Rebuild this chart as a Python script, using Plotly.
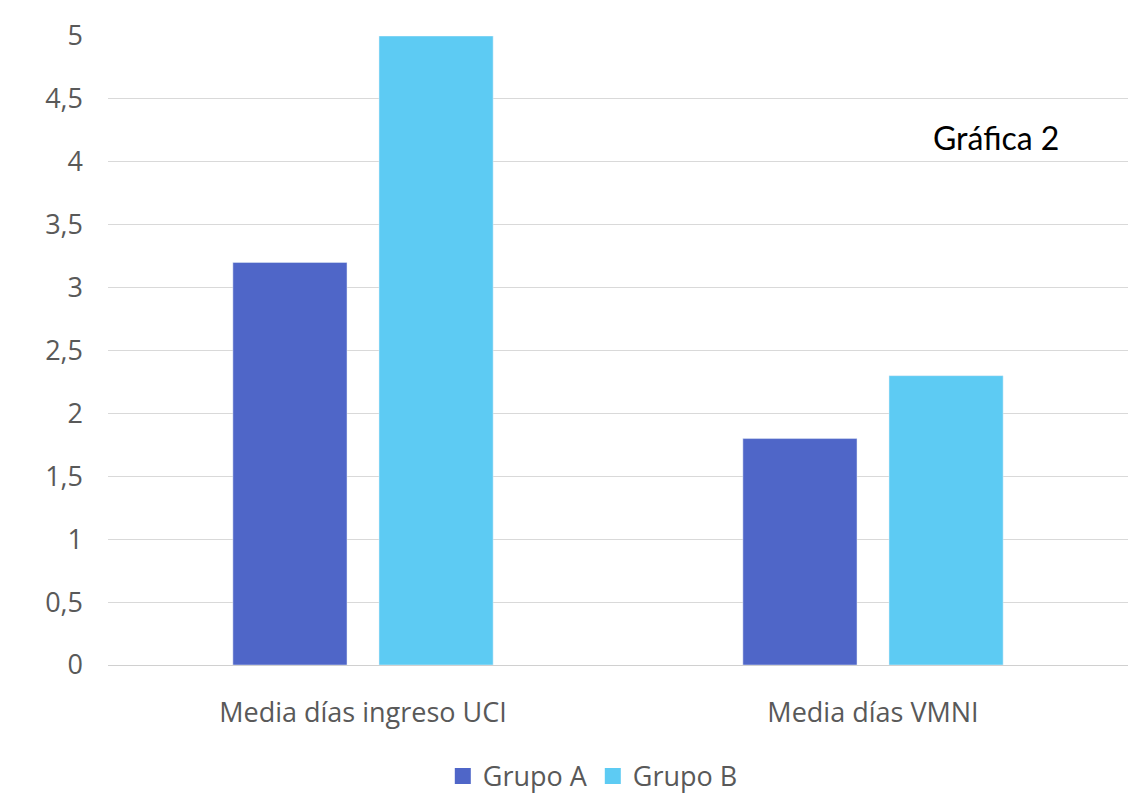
import plotly.graph_objects as go

categories = ["Media días ingreso UCI", "Media días VMNI"]
grupo_a = [3.2, 1.8]
grupo_b = [5.0, 2.3]
tick_vals = [0, 0.5, 1, 1.5, 2, 2.5, 3, 3.5, 4, 4.5, 5]
tick_text = ["0", "0,5", "1", "1,5", "2", "2,5", "3", "3,5", "4", "4,5", "5"]
color_a = "#4F66C8"
color_b = "#5DCBF3"

fig = go.Figure()
fig.add_trace(go.Bar(name="Grupo A", x=categories, y=grupo_a, marker_color=color_a, showlegend=False))
fig.add_trace(go.Bar(name="Grupo B", x=categories, y=grupo_b, marker_color=color_b, showlegend=False))
# legend entries with larger square markers
for name, col in [("Grupo A", color_a), ("Grupo B", color_b)]:
    fig.add_trace(go.Scatter(x=[None], y=[None], mode="markers", name=name,
                             marker=dict(symbol="square", size=20, color=col)))

fig.update_layout(
    width=1140, height=793,
    margin=dict(l=108, r=12, t=36, b=128),
    paper_bgcolor="white", plot_bgcolor="white",
    barmode="group", bargap=0.427, bargroupgap=0.219,
    font=dict(family="Open Sans", color="#595959"),
    legend=dict(orientation="h", x=0.52, xanchor="center", xref="container",
                y=0.021, yanchor="middle", yref="container",
                font=dict(size=27, color="#595959"), itemwidth=30),
    showlegend=True,
)
fig.update_yaxes(range=[0, 5], tickvals=tick_vals, ticktext=tick_text,
                 showgrid=True, gridcolor="#D9D9D9", gridwidth=1,
                 zeroline=False, showline=False, automargin=False,
                 tickfont=dict(size=27, color="#595959"), ticklabelstandoff=24)
fig.update_xaxes(showline=True, linecolor="#D0D0D0", linewidth=1, automargin=False,
                 tickfont=dict(size=27, color="#595959"), ticklabelstandoff=24)
fig.add_annotation(text="Gráfica 2", xref="paper", yref="paper", x=0.807, y=0.839,
                   xanchor="left", yanchor="middle", showarrow=False,
                   font=dict(family="Lato", size=32, color="black"))

fig.write_html("out.html")
